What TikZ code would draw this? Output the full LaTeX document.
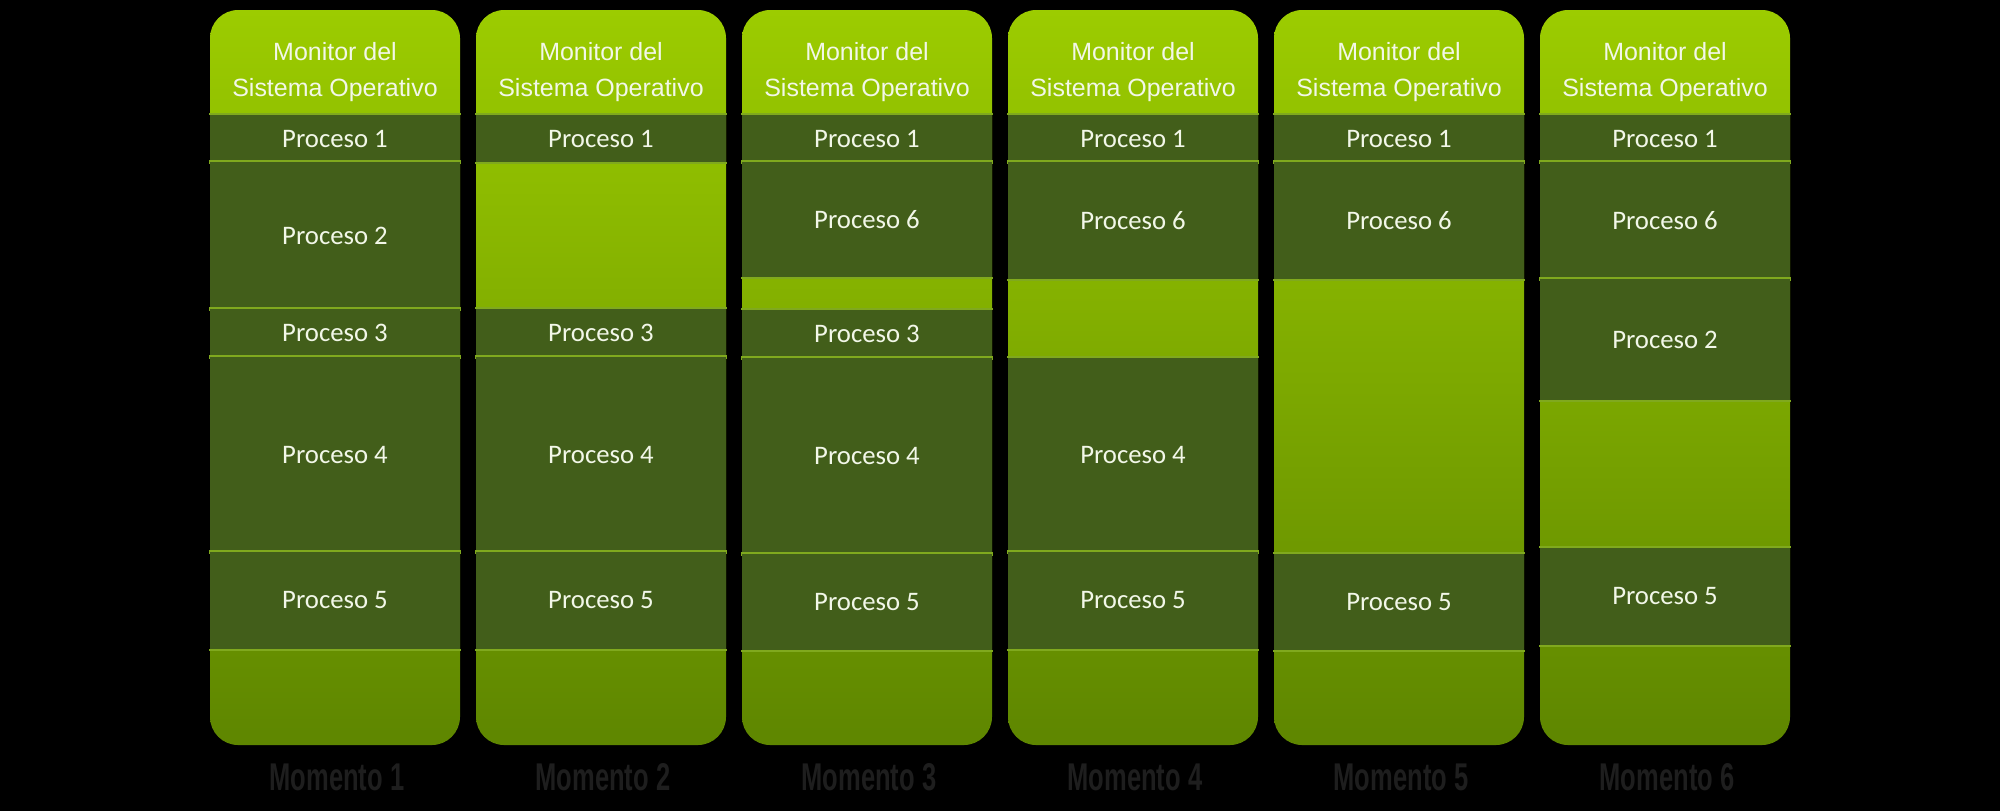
\documentclass[tikz,border=0pt]{standalone}
\usepackage{fontspec}
\setmainfont{Carlito}
\newfontfamily\cabfont{Liberation Sans}
\definecolor{verdearriba}{HTML}{9CCC00}
\definecolor{verdeabajo}{HTML}{5E8600}
\definecolor{verdeproceso}{HTML}{425E1A}
\definecolor{verdelinea}{HTML}{80A91E}
\definecolor{textoclaro}{HTML}{F2F7E8}
\definecolor{grisetiqueta}{HTML}{1E1E1E}
\newlength{\colancho}
\setlength{\colancho}{2.5cm}
\tikzset{
  proceso/.style={fill=verdeproceso, minimum width=\colancho, inner sep=0pt,
    text=textoclaro, font=\fontsize{7.6}{9}\selectfont},
  linea/.style={verdelinea, line width=0.6pt},
  cabecera/.style={align=center, text=textoclaro, inner sep=0pt,
    font=\cabfont\fontsize{7.1}{10}\selectfont},
  momento/.style={text=grisetiqueta, inner sep=0pt,
    font=\cabfont\bfseries\fontsize{11}{13}\selectfont},
}

\begin{document}
\begin{tikzpicture}[x=0.01cm, y=-0.01cm]
  \fill[black] (0,0) rectangle (2000,811);
  \useasboundingbox (0,0) rectangle (2000,811);
  \foreach \col/\xl/\bloques in {
      1/210/{115/162/1,162/309/2,309/357/3,357/552/4,552/649/5},
      2/476/{115/162/1,309/357/3,357/552/4,552/649/5},
      3/742/{115/162/1,162/277/6,310/358/3,358/554/4,554/650/5},
      4/1008/{115/162/1,162/279/6,358/552/4,552/649/5},
      5/1274/{115/162/1,162/279/6,554/650/5},
      6/1540/{115/162/1,162/279/6,279/400/2,548/645/5}} {
    \shade[top color=verdearriba, bottom color=verdeabajo, rounded corners=8pt]
      (\xl,10) rectangle (\xl+250,745);
    \node[cabecera] (mon\col) at (\xl+125,72) {Monitor del\\Sistema Operativo};
    \foreach \arr/\aba/\num in \bloques {
      \node[proceso, minimum height={(\aba-\arr)*0.01cm}] (c\col-p\num)
        at (\xl+125,{(\arr+\aba)/2}) {Proceso \num};
      \draw[linea] (c\col-p\num.north west) -- (c\col-p\num.north east)
                   (c\col-p\num.south west) -- (c\col-p\num.south east);
    }
    \node[momento] (mom\col) at (\xl+127,777) {\scalebox{0.66}[1]{Momento \col}};
  }
\end{tikzpicture}
\end{document}
